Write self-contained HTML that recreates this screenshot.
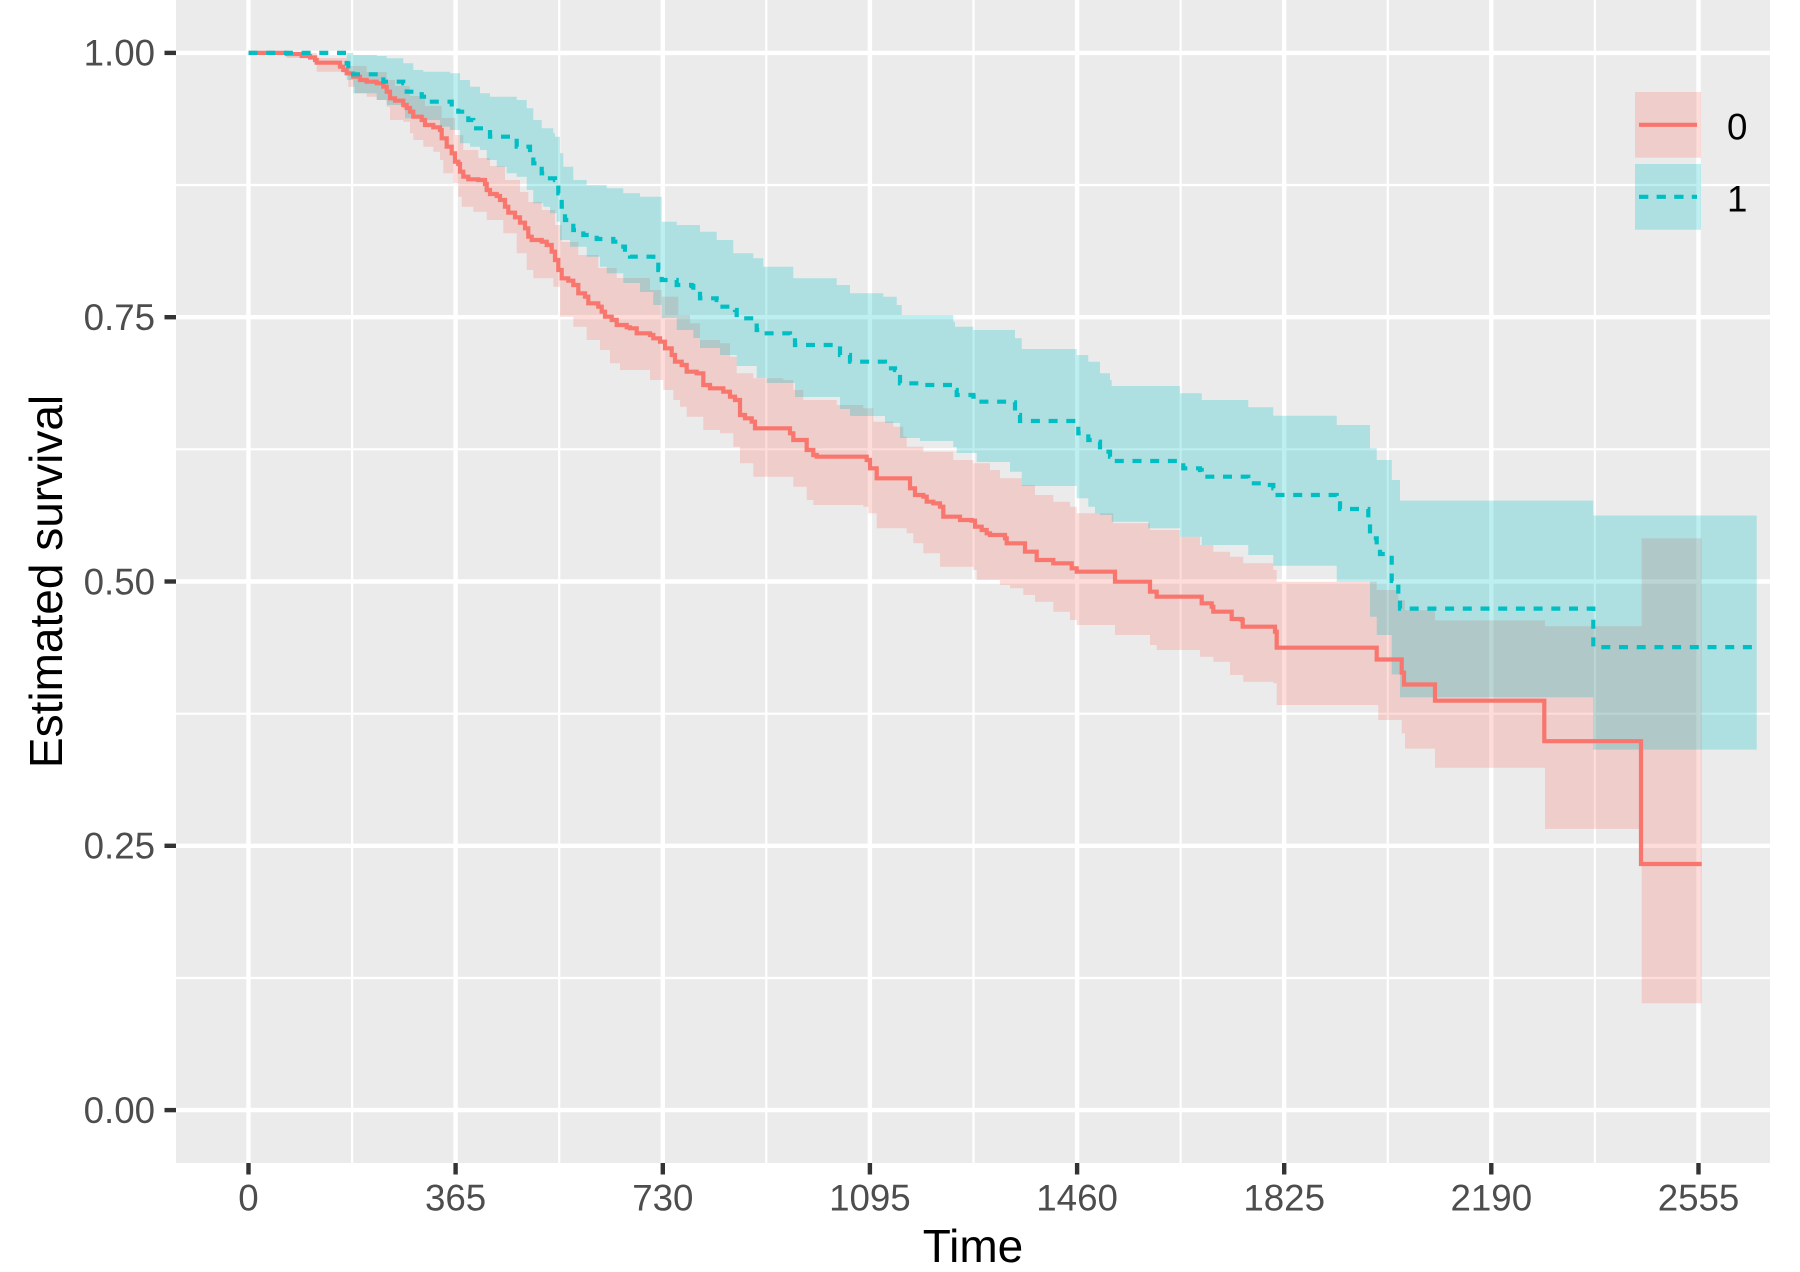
<!DOCTYPE html>
<html>
<head>
<meta charset="utf-8">
<style>
  html, body { margin: 0; padding: 0; background: #ffffff; }
  svg { display: block; }
  text { font-family: "Liberation Sans", Arial, sans-serif; }
</style>
</head>
<body>
<svg width="1800" height="1272" viewBox="0 0 1800 1272" xmlns="http://www.w3.org/2000/svg">
  <rect x="0" y="0" width="1800" height="1272" fill="#ffffff"/>
  <!-- panel -->
  <rect x="176" y="0" width="1594" height="1163" fill="#EBEBEB"/>

  <!-- minor grid -->
  <g stroke="#ffffff" stroke-width="2.2" fill="none">
    <line x1="176" x2="1770" y1="185.0" y2="185.0"/>
    <line x1="176" x2="1770" y1="449.3" y2="449.3"/>
    <line x1="176" x2="1770" y1="713.7" y2="713.7"/>
    <line x1="176" x2="1770" y1="978.0" y2="978.0"/>
    <line y1="0" y2="1163" x1="352.1" x2="352.1"/>
    <line y1="0" y2="1163" x1="559.2" x2="559.2"/>
    <line y1="0" y2="1163" x1="766.3" x2="766.3"/>
    <line y1="0" y2="1163" x1="973.5" x2="973.5"/>
    <line y1="0" y2="1163" x1="1180.6" x2="1180.6"/>
    <line y1="0" y2="1163" x1="1387.8" x2="1387.8"/>
    <line y1="0" y2="1163" x1="1594.9" x2="1594.9"/>
  </g>
  <!-- major grid -->
  <g stroke="#ffffff" stroke-width="4.4" fill="none">
    <line x1="176" x2="1770" y1="52.9" y2="52.9"/>
    <line x1="176" x2="1770" y1="317.2" y2="317.2"/>
    <line x1="176" x2="1770" y1="581.5" y2="581.5"/>
    <line x1="176" x2="1770" y1="845.8" y2="845.8"/>
    <line x1="176" x2="1770" y1="1110.1" y2="1110.1"/>
    <line y1="0" y2="1163" x1="248.5" x2="248.5"/>
    <line y1="0" y2="1163" x1="455.6" x2="455.6"/>
    <line y1="0" y2="1163" x1="662.8" x2="662.8"/>
    <line y1="0" y2="1163" x1="869.9" x2="869.9"/>
    <line y1="0" y2="1163" x1="1077.1" x2="1077.1"/>
    <line y1="0" y2="1163" x1="1284.2" x2="1284.2"/>
    <line y1="0" y2="1163" x1="1491.3" x2="1491.3"/>
    <line y1="0" y2="1163" x1="1698.5" x2="1698.5"/>
  </g>

  <!-- red ribbon -->
  <path fill="#F8766D" fill-opacity="0.26" stroke="none" d="M286.7,52.9 H316.7 V58 H346.7 V66 H366.7 V72 H386.7 V80 H395 V86 H410 V96 H425 V106 H441.7 V118 H455 V135 H463.3 V150 H478.3 V158 H490 V166 H505 V180 H520 V192 H528.3 V202 H541.7 V210 H555 V225 H561.7 V242 H578.3 V255 H598.3 V268 H616.7 V278 H650 V290 H661.7 V296.7 H678.3 V315 H690 V323.3 H700 V340 H720 V343.3 H730 V356.7 H736.7 V373.3 H753.3 V378.3 H783.3 V380 H793.3 V390 H803.3 V400 H836.7 V405 H863.3 V408.3 H873.3 V421.7 H893.3 V426.7 H903.3 V436.7 H906.7 V446.7 H923.3 V451.7 H953.3 V460 H973.3 V463.3 H990 V470 H1000 V478.3 H1021.7 V485 H1035 V495 H1053.3 V501.7 H1070 V506.7 H1076.7 V513.3 H1113.3 V523.3 H1150 V530 H1180 V536.7 H1200 V545 H1213.3 V551.7 H1230 V556.7 H1243.3 V563.3 H1273.3 V570 H1276.7 V581.7 H1376.7 V590 H1398.3 V600.2 H1405 V610.3 H1435 V620.4 H1545 V626.1 H1641.7 V538.4 H1701.7 V1003.3 H1641.7 V828.9 H1545 V767.8 H1435 V748.6 H1405 V733.4 H1401.7 V720 H1378.3 V705 H1276.7 V683.3 H1273.3 V681.7 H1243.3 V675 H1230 V661.7 H1213.3 V656.7 H1200 V650 H1156.7 V645 H1150 V635 H1115 V625 H1076.7 V620 H1070 V611.7 H1053.3 V601.7 H1035 V595 H1023.3 V588.3 H1010 V585 H1000 V580 H976.7 V570 H973.3 V566.7 H940 V553.3 H923.3 V543.3 H913.3 V533.3 H906.7 V528.3 H876.7 V513.3 H868.3 V506.7 H863.3 V505 H813.3 V500 H806.7 V486.7 H793.3 V476.7 H753.3 V463.3 H740 V446.7 H733.3 V433.3 H720 V430 H703.3 V416.7 H686.7 V406.7 H680 V400 H673.3 V390 H663.3 V380 H650 V370 H620 V363.3 H610 V350 H600 V340 H586.7 V326.7 H573.3 V316.7 H560 V286.7 H553.3 V278.3 H533.3 V270 H526.7 V253.3 H516.7 V233.3 H503.3 V220 H486.7 V211.7 H473.3 V206.7 H461.7 V196.7 H458.3 V183.3 H453.3 V173.3 H443.3 V160 H440 V151.7 H433.3 V146.7 H423.3 V140 H413.3 V133.3 H410 V121.7 H403.3 V120 H390 V106.7 H386.7 V100 H376.7 V96.7 H366.7 V93.3 H355 V86.7 H348.3 V71.7 H316.7 V60 H313.3 V58 H286.7 Z"/>

  <!-- cyan ribbon -->
  <path fill="#00BFC4" fill-opacity="0.26" stroke="none" d="M346.7,52.9 H353.3 V55 H376.7 V56 H386.7 V58.3 H403.3 V63.3 H413.3 V70 H423.3 V71.7 H450 V73.3 H460 V80 H470 V86.7 H480 V93.3 H490 V96.7 H516.7 V100 H526.7 V108.3 H533.3 V120 H541.7 V128.3 H553.3 V133.3 H555 V136.7 H560 V153.3 H563.3 V166.7 H573.3 V180 H586.7 V185 H606.7 V188.3 H623.3 V193.3 H640 V196.7 H661.7 V221.7 H676.7 V225 H700 V231.7 H716.7 V240 H733.3 V253.3 H753.3 V258.3 H763.3 V266.7 H793.3 V278.3 H836.7 V285 H850 V293.3 H883.3 V296.7 H896.7 V305 H901.7 V315 H953.3 V321.7 H955 V326.7 H973.3 V330 H1015 V338.3 H1021.7 V349 H1076.7 V355 H1088.3 V361.7 H1100 V373.3 H1110 V380 H1111.7 V386 H1180 V393.3 H1201.7 V400 H1248.3 V407.3 H1273.3 V415.7 H1336.7 V425 H1370 V448.3 H1376.7 V460 H1391.7 V480 H1400 V500.6 H1593.3 V515.5 H1756.7 V749.6 H1593.3 V697.3 H1400 V674.4 H1391.7 V635 H1376.7 V616.7 H1370 V581.7 H1336.7 V565.7 H1273.3 V555 H1248.3 V545 H1201.7 V536.7 H1180 V528.3 H1148.3 V521.7 H1111.7 V515 H1100 V513.3 H1095 V506.7 H1088.3 V498.3 H1076.7 V486 H1021.7 V471.7 H1010 V462 H976.7 V453 H956.7 V447 H953.3 V441 H920 V438 H900 V423 H885 V416 H850 V409 H840 V397 H795 V383 H766.7 V378 H756.7 V366 H736.7 V355 H720 V348 H700 V338 H693.3 V330 H676.7 V318 H661.7 V305 H653.3 V292 H640 V283 H623.3 V273.3 H606.7 V266.7 H600 V256.7 H586.7 V246.7 H570 V240 H560 V221.7 H556.7 V213.3 H550 V206.7 H543.3 V203.3 H533.3 V190 H526.7 V176.7 H516.7 V173.3 H506.7 V166.7 H496.7 V160 H486.7 V150 H480 V146.7 H470 V143.3 H460 V130 H450 V126.7 H440 V120 H423.3 V118.3 H405 V108.3 H403.3 V105 H386.7 V100 H376.7 V93.3 H353.3 V80 H346.7 Z"/>

  <!-- red curve (group 0, solid) -->
  <path fill="none" stroke="#F8766D" stroke-width="4.2" stroke-linejoin="miter" d="M248.5,52.9 H286.7 V54 H301.7 V56 H310 V57.5 H315 V60 H316.7 V62.7 H340 V66.7 H343.3 V70 H346.7 V73.3 H353.3 V76.7 H360 V80 H366.7 V81.7 H376.7 V83.3 H383.3 V86.7 H386.7 V91.7 H390 V98.3 H395 V100.7 H403.3 V105 H406.7 V108 H410 V111.7 H413.3 V116.7 H421.7 V120 H425 V125 H433.3 V127.3 H440 V130 H441.7 V138.3 H446.7 V146.7 H451.7 V153.3 H455 V161.7 H458.3 V164 H460 V171.7 H463.3 V176.7 H468.3 V179.3 H478.3 V180 H485 V184 H486.7 V190 H490 V194 H496.7 V196 H500 V200 H505 V206.7 H508.3 V212.7 H515 V217.3 H520 V222.7 H525 V228.3 H528.3 V236.7 H531.7 V240 H541.7 V241.7 H546.7 V245 H551.7 V251.7 H555 V260 H558.3 V270 H561.7 V278.3 H568.3 V280.7 H573.3 V285 H578.3 V293.3 H585 V296.7 H588.3 V303.3 H598.3 V306.7 H601.7 V311.7 H605 V316.7 H611.7 V320 H616.7 V325 H626.7 V327.3 H630 V328.3 H636.7 V333.3 H650 V335 H653.3 V338.3 H660 V341.7 H665 V348.3 H671.7 V355 H675 V361.7 H681.7 V365 H686.7 V371.7 H696.7 V373.3 H703.3 V385 H710 V388.3 H723.3 V391.7 H730 V396.7 H735 V400 H740 V415 H745 V418.3 H751.7 V421.7 H755 V428.3 H790 V433.3 H793.3 V440 H806.7 V450 H813.3 V455 H816.7 V456.7 H866.7 V460 H870 V468.3 H876.7 V478.3 H910 V488.3 H915 V495 H923.3 V496.7 H926.7 V501.7 H933.3 V503.3 H940 V506.7 H943.3 V516.7 H960 V520 H971.7 V520.7 H975 V526.7 H981.7 V530 H986.7 V533.3 H990 V535 H1005 V538.3 H1006.7 V543.3 H1025 V551.7 H1036.7 V560 H1053.3 V563.3 H1071.7 V568.3 H1076.7 V571.7 H1115 V581.7 H1150 V591.7 H1156.7 V596.7 H1201.7 V603.3 H1211.7 V606.7 H1213.3 V611.7 H1231.7 V619 H1241.7 V620 H1242.7 V626.7 H1275 V631.7 H1276.7 V647.7 H1376.7 V659.5 H1401.7 V672.7 H1404 V684.5 H1435 V700.7 H1544.3 V741.2 H1641 V864 H1701.7"/>

  <!-- cyan curve (group 1, dashed) -->
  <path fill="none" stroke="#00BFC4" stroke-width="4.2" stroke-dasharray="9 8.7" stroke-linejoin="miter" d="M248.5,52.9 H346.7 V63.3 H348.3 V74.3 H383.3 V81.7 H403.3 V83.3 H406.7 V91.7 H421.7 V96.7 H426.7 V101.7 H451.7 V106.7 H458.3 V111.7 H468.3 V120 H473.3 V128.3 H486.7 V130 H490 V136.7 H513.3 V137.7 H516.7 V146.7 H530 V150 H533.3 V163.3 H541.7 V173.3 H546.7 V178.3 H555 V180 H558.3 V193.3 H561.7 V206.7 H565 V220 H573.3 V230 H583.3 V235 H596.7 V239 H613.3 V241.7 H623.3 V246.7 H625 V255 H630 V256.7 H653.3 V261.7 H658.3 V270 H661.7 V280 H676.7 V285 H691.7 V286 H693.3 V290 H700 V298.3 H716.7 V300 H720 V306.7 H735 V310 H736.7 V318.3 H753.3 V320 H756.7 V330 H766.7 V333.3 H790 V335 H795 V345 H840 V355 H850 V361.7 H885 V368.3 H895 V370 H900 V383.3 H920 V385 H953.3 V390 H956.7 V395 H973.3 V396.7 H976.7 V401.7 H1011.7 V402.3 H1015 V415 H1020 V421 H1078.3 V433.3 H1088.3 V440 H1096.7 V441.7 H1100 V451.7 H1110 V456.7 H1111.7 V461 H1183.3 V468.3 H1200 V470 H1201.7 V476.7 H1248.3 V483.3 H1263.3 V485 H1273.3 V488.3 H1275 V495 H1336.7 V503.3 H1340 V509 H1368.3 V518.3 H1370 V538.3 H1376.7 V548.3 H1380 V554 H1391.7 V581 H1398.3 V598 H1400 V608.6 H1593.3 V647.1 H1756.7"/>

  <!-- legend -->
  <rect x="1635" y="92" width="66" height="65.7" fill="#F8766D" fill-opacity="0.26"/>
  <rect x="1635" y="164" width="66" height="65.7" fill="#00BFC4" fill-opacity="0.26"/>
  <line x1="1639" x2="1697" y1="124.8" y2="124.8" stroke="#F8766D" stroke-width="4.2"/>
  <line x1="1639" x2="1697" y1="196.8" y2="196.8" stroke="#00BFC4" stroke-width="4.2" stroke-dasharray="9.3 8.3"/>
  <text x="1727" y="139.6" font-size="36.7" fill="#000000">0</text>
  <text x="1727" y="211.4" font-size="36.7" fill="#000000">1</text>

  <!-- axis ticks -->
  <g stroke="#333333" stroke-width="4.4">
    <line x1="164.5" x2="176" y1="52.9" y2="52.9"/>
    <line x1="164.5" x2="176" y1="317.2" y2="317.2"/>
    <line x1="164.5" x2="176" y1="581.5" y2="581.5"/>
    <line x1="164.5" x2="176" y1="845.8" y2="845.8"/>
    <line x1="164.5" x2="176" y1="1110.1" y2="1110.1"/>
    <line y1="1163" y2="1174.5" x1="248.5" x2="248.5"/>
    <line y1="1163" y2="1174.5" x1="455.6" x2="455.6"/>
    <line y1="1163" y2="1174.5" x1="662.8" x2="662.8"/>
    <line y1="1163" y2="1174.5" x1="869.9" x2="869.9"/>
    <line y1="1163" y2="1174.5" x1="1077.1" x2="1077.1"/>
    <line y1="1163" y2="1174.5" x1="1284.2" x2="1284.2"/>
    <line y1="1163" y2="1174.5" x1="1491.3" x2="1491.3"/>
    <line y1="1163" y2="1174.5" x1="1698.5" x2="1698.5"/>
  </g>

  <!-- y tick labels -->
  <g font-size="36.7" fill="#4D4D4D" text-anchor="end">
    <text x="155" y="65.7">1.00</text>
    <text x="155" y="330.0">0.75</text>
    <text x="155" y="594.3">0.50</text>
    <text x="155" y="858.6">0.25</text>
    <text x="155" y="1122.9">0.00</text>
  </g>
  <!-- x tick labels -->
  <g font-size="36.7" fill="#4D4D4D" text-anchor="middle">
    <text x="248.5" y="1210.5">0</text>
    <text x="455.6" y="1210.5">365</text>
    <text x="662.8" y="1210.5">730</text>
    <text x="869.9" y="1210.5">1095</text>
    <text x="1077.1" y="1210.5">1460</text>
    <text x="1284.2" y="1210.5">1825</text>
    <text x="1491.3" y="1210.5">2190</text>
    <text x="1698.5" y="1210.5">2555</text>
  </g>

  <!-- axis titles -->
  <text x="973" y="1262" font-size="46" fill="#000000" text-anchor="middle">Time</text>
  <text transform="translate(62,581.5) rotate(-90)" font-size="46" fill="#000000" text-anchor="middle">Estimated survival</text>
</svg>
</body>
</html>
